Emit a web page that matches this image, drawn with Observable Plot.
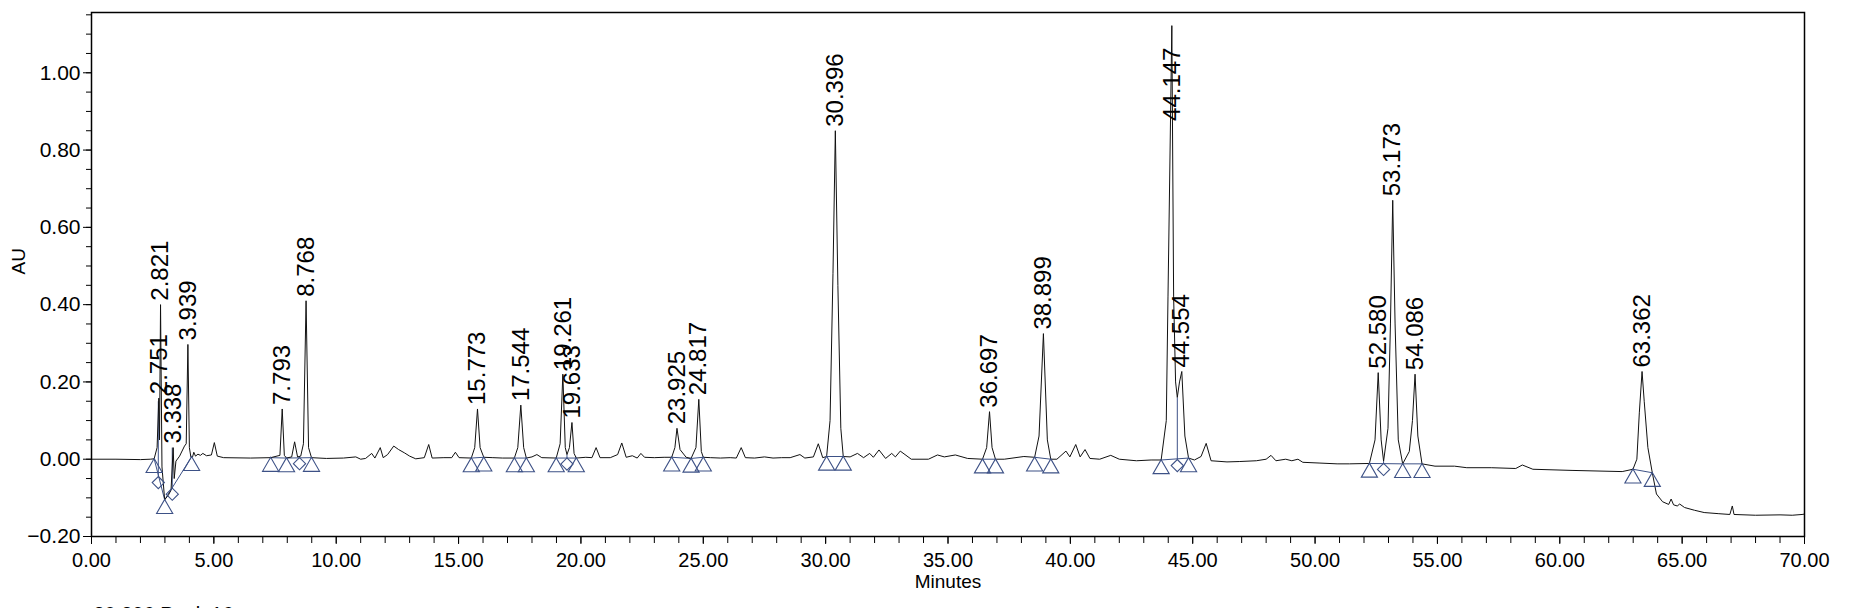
<!DOCTYPE html>
<html>
<head>
<meta charset="utf-8">
<script src="https://cdn.jsdelivr.net/npm/d3@7"></script>
<script src="https://cdn.jsdelivr.net/npm/@observablehq/plot@0.6"></script>
<style>
  html, body { margin: 0; padding: 0; background: #fff; }
  #chart { width: 1854px; height: 608px; overflow: hidden; }
</style>
</head>
<body>
<div id="chart"></div>
<script>
// ---- Data ----
const traceTime = [0.00,1.00,2.00,2.40,2.56,2.68,2.751,2.78,2.821,2.88,2.99,3.15,3.25,3.338,3.38,3.45,3.60,3.80,3.87,3.939,4.00,4.06,4.13,4.18,4.25,4.35,4.45,4.55,4.70,4.90,5.02,5.14,5.40,6.50,7.32,7.70,7.793,7.88,7.97,8.18,8.30,8.42,8.55,8.66,8.768,8.87,8.99,9.60,10.30,10.80,11.00,11.20,11.45,11.58,11.80,11.92,12.10,12.35,12.55,12.80,13.00,13.25,13.60,13.78,13.92,14.40,14.72,14.87,15.02,15.52,15.66,15.773,15.88,16.03,16.40,16.80,17.28,17.42,17.544,17.66,17.77,18.00,18.20,18.40,18.99,19.15,19.261,19.36,19.43,19.53,19.633,19.72,19.81,20.20,20.45,20.62,20.78,21.20,21.50,21.67,21.85,22.10,22.30,22.45,22.60,23.00,23.40,23.71,23.84,23.925,24.05,24.30,24.50,24.70,24.817,24.92,25.00,25.30,25.70,26.10,26.35,26.55,26.72,27.10,27.50,27.85,28.20,28.55,28.95,29.15,29.50,29.70,29.88,30.04,30.18,30.30,30.396,30.50,30.62,30.72,31.00,31.30,31.55,31.80,31.95,32.18,32.45,32.70,32.85,33.05,33.50,34.20,34.57,34.85,35.30,35.80,36.41,36.58,36.697,36.80,36.94,37.30,38.10,38.54,38.72,38.899,39.06,39.20,39.45,39.82,39.98,40.22,40.40,40.60,40.80,41.20,41.65,42.00,42.70,43.30,43.71,43.92,43.99,44.147,44.22,44.30,44.37,44.46,44.554,44.68,44.83,45.07,45.34,45.55,45.75,46.40,46.90,47.60,48.00,48.20,48.40,48.80,49.05,49.30,49.50,50.20,50.90,51.40,52.22,52.45,52.580,52.70,52.80,52.98,53.08,53.173,53.27,53.40,53.58,53.85,53.98,54.086,54.20,54.37,54.90,55.70,56.20,57.20,58.20,58.47,58.90,60.50,62.55,62.99,63.15,63.25,63.362,63.45,63.60,63.78,63.95,64.20,64.45,64.55,64.65,64.80,64.90,65.10,65.50,65.90,66.50,66.95,67.05,67.12,68.00,69.00,69.50,69.90,70.00];
const traceAU = [0.000,0.000,-0.001,0.000,0.001,0.030,0.158,0.050,0.400,-0.020,-0.105,-0.092,-0.080,0.030,-0.050,-0.005,0.008,0.034,0.040,0.297,0.030,0.006,0.006,0.018,0.008,0.013,0.010,0.015,0.009,0.011,0.043,0.008,0.004,0.003,0.004,0.010,0.130,0.010,0.003,0.006,0.045,0.006,0.008,0.040,0.410,0.030,0.004,0.002,0.003,0.006,0.000,0.002,0.015,0.003,0.030,0.004,0.012,0.034,0.025,0.016,0.008,0.001,0.004,0.038,0.003,0.004,0.004,0.018,0.004,0.003,0.030,0.130,0.030,0.005,0.004,0.003,0.003,0.030,0.140,0.030,0.003,0.006,0.012,0.004,0.003,0.040,0.220,0.030,0.012,0.030,0.095,0.015,0.003,0.005,0.004,0.030,0.004,0.004,0.012,0.042,0.005,0.009,0.003,0.015,0.005,0.004,0.005,0.005,0.030,0.080,0.025,0.005,0.002,0.030,0.155,0.020,0.005,0.004,0.003,0.004,0.003,0.030,0.004,0.003,0.006,0.003,0.004,0.004,0.012,0.003,0.006,0.040,0.004,0.007,0.100,0.480,0.850,0.450,0.080,0.007,0.006,0.015,0.004,0.015,0.005,0.024,0.002,0.015,0.006,0.021,0.000,0.000,0.011,0.006,0.011,0.002,0.000,0.030,0.123,0.030,0.000,0.000,0.007,0.005,0.060,0.325,0.050,0.000,0.000,0.021,0.006,0.038,0.006,0.025,0.002,0.000,0.010,0.000,-0.004,-0.002,-0.002,0.100,0.420,1.122,0.420,0.200,0.160,0.200,0.227,0.060,0.003,-0.002,0.007,0.041,-0.004,-0.007,-0.006,-0.004,0.000,0.010,-0.004,0.000,-0.004,0.000,-0.008,-0.010,-0.012,-0.012,-0.011,0.050,0.224,0.050,-0.005,0.080,0.350,0.670,0.350,0.050,-0.012,0.020,0.100,0.220,0.060,-0.012,-0.018,-0.018,-0.022,-0.022,-0.024,-0.015,-0.026,-0.029,-0.032,-0.026,0.000,0.120,0.227,0.150,0.030,-0.035,-0.090,-0.110,-0.117,-0.103,-0.118,-0.121,-0.116,-0.125,-0.132,-0.138,-0.141,-0.143,-0.121,-0.143,-0.145,-0.144,-0.145,-0.143,-0.142];

const peakTime = [2.751,2.821,3.338,3.939,7.793,8.768,15.773,17.544,19.261,19.633,23.925,24.817,30.396,36.697,38.899,44.147,44.554,52.580,53.173,54.086,63.362];
const peakApex = [0.158,0.400,0.030,0.297,0.130,0.410,0.130,0.140,0.220,0.095,0.080,0.155,0.850,0.123,0.325,1.122,0.227,0.224,0.670,0.220,0.227];

// integration baselines (start -> end)
const baseStartT = [2.56,2.99,7.32,7.97,15.52,17.28,18.99,23.71,24.50,30.04,36.41,38.54,43.71,52.22,53.58,62.99];
const baseStartV = [0.001,-0.105,0.004,0.003,0.003,0.003,0.003,0.005,0.002,0.007,0.000,0.005,-0.002,-0.011,-0.012,-0.026];
const baseEndT   = [2.99,4.09,7.97,8.99,16.03,17.77,19.81,24.50,25.00,30.72,36.94,39.20,44.83,53.58,54.37,63.78];
const baseEndV   = [-0.105,0.006,0.003,0.004,0.005,0.003,0.003,0.002,0.005,0.007,0.000,0.000,0.003,-0.012,-0.012,-0.035];

// peak start/end markers (triangles) and drop-line markers (diamonds)
const triTime = [2.56,2.99,4.09,7.32,7.97,8.99,15.52,16.03,17.28,17.77,18.99,19.81,23.71,24.50,25.00,30.04,30.72,36.41,36.94,38.54,39.20,43.71,44.83,52.22,53.58,54.37,62.99,63.78];
const triAU   = [0.001,-0.105,0.006,0.004,0.003,0.004,0.003,0.005,0.003,0.003,0.003,0.003,0.005,0.002,0.005,0.007,0.007,0.000,0.000,0.005,0.000,-0.002,0.003,-0.011,-0.012,-0.012,-0.026,-0.035];
const dropTime   = [2.73,3.30,8.50,19.43,44.37,52.80];
const dropBottom = [-0.045,-0.075,0.004,0.003,-0.001,-0.011];
const dropTop    = [0.150,0.030,0.007,0.012,0.160,-0.005];

const xMajor = [0,5,10,15,20,25,30,35,40,45,50,55,60,65,70];
const yMajor = [-0.20,0.00,0.20,0.40,0.60,0.80,1.00];
const xLabel = "Minutes";
const yLabel = "AU";
const footer = "30.396 Peak 16";

// ---- build tables ----
const trace = traceTime.map((t, i) => ({t, v: traceAU[i]}));
const peaks = peakTime.map((t, i) => ({t, apex: peakApex[i], label: t.toFixed(3)}));
const baselines = baseStartT.map((t, i) => ({x1: t, y1: baseStartV[i], x2: baseEndT[i], y2: baseEndV[i]}));
const tris = triTime.map((t, i) => ({t, v: triAU[i]}));
const drops = dropTime.map((t, i) => ({t, lo: dropBottom[i], hi: dropTop[i]}));
const xMinor = d3.range(0, 71, 1);
const yMinor = d3.range(-20, 116, 5).map(d => d / 100);
const labelCeiling = 0.865;
const markerColor = "#3d5186";
const fmt = d3.format(".2f");

const chart = Plot.plot({
  width: 1854,
  height: 608,
  marginLeft: 91,
  marginRight: 50,
  marginTop: 12,
  marginBottom: 72,
  x: {domain: [0, 70]},
  y: {domain: [-0.2, 1.156]},
  style: {fontFamily: "'Liberation Sans', Arial, sans-serif", fontSize: "20px", background: "#fff", color: "#000"},
  marks: [
    Plot.axisX({ticks: xMinor, tickSize: 7, tickFormat: () => "", label: null}),
    Plot.axisX({ticks: xMajor, tickSize: 8, tickPadding: 8, tickFormat: fmt, label: null, fontSize: 20}),
    Plot.axisY({ticks: yMinor, tickSize: 5, tickFormat: () => "", label: null}),
    Plot.axisY({ticks: yMajor, tickSize: 8, tickPadding: 3, tickFormat: fmt, label: null, fontSize: 21}),
    Plot.link(baselines, {x1: "x1", y1: "y1", x2: "x2", y2: "y2", stroke: markerColor, strokeWidth: 1}),
    Plot.link(drops, {x1: "t", x2: "t", y1: "lo", y2: "hi", stroke: markerColor, strokeWidth: 1}),
    Plot.line(trace, {x: "t", y: "v", stroke: "#111", strokeWidth: 1}),
    Plot.dot(tris, {x: "t", y: "v", symbol: "triangle", r: 6, dy: 9, stroke: markerColor, fill: "none", strokeWidth: 1.1}),
    Plot.dot(drops, {x: "t", y: "lo", symbol: "diamond2", r: 5.5, dy: 6, stroke: markerColor, fill: "none", strokeWidth: 1.1}),
    Plot.text(peaks, {x: "t", y: d => Math.min(d.apex, labelCeiling), text: "label", rotate: -90, textAnchor: "start", dy: -4, fontSize: 24, fill: "#000"}),
    Plot.frame({stroke: "#000", strokeWidth: 1.5}),
    Plot.text([yLabel], {frameAnchor: "left", dx: -73, rotate: -90, fontSize: 19, fill: "#000"}),
    Plot.text([xLabel], {frameAnchor: "bottom", dy: 51, fontSize: 19, fill: "#000"}),
    Plot.text([footer], {frameAnchor: "bottom-left", dx: 2, dy: 70, textAnchor: "start", lineAnchor: "top", fontSize: 20, fill: "#000"})
  ]
});
document.getElementById("chart").append(chart);
</script>
</body>
</html>
